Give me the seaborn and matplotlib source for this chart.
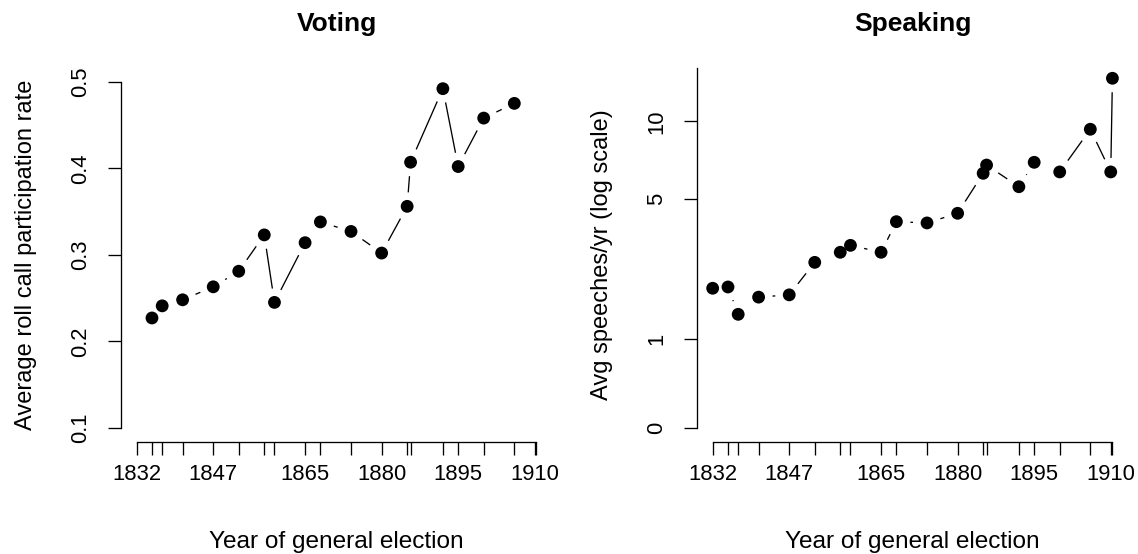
import numpy as np
import matplotlib
matplotlib.use("Agg")
import matplotlib.pyplot as plt
import seaborn as sns

# General elections (x positions of the two same-year contests are nudged apart)
election_year = [1832, 1835, 1837, 1841, 1847, 1852, 1857, 1859, 1865, 1868,
                 1874, 1880, 1885, 1885.67, 1892, 1895, 1900, 1906, 1910, 1910.33]
label_years = [1832, 1847, 1865, 1880, 1895, 1910]
label_text = ["1832", "1847", "1865", "1880", "1895", "1910"]

# Voting: average roll call participation rate (1835-1906 parliaments)
voting_year = election_year[1:18]
voting_rate = [0.227, 0.241, 0.248, 0.263, 0.281, 0.323, 0.245, 0.314, 0.338,
               0.327, 0.302, 0.356, 0.407, 0.492, 0.402, 0.458, 0.475]
voting_ticks = [0.1, 0.2, 0.3, 0.4, 0.5]

# Speaking: average speeches per year per MP
speaking_year = election_year
speeches_per_year = [1.98, 2.01, 1.43, 1.78, 1.83, 2.65, 2.95, 3.17, 2.95, 4.02,
                     3.97, 4.36, 6.33, 6.82, 5.60, 6.99, 6.41, 9.35, 6.41, 14.43]
speaking_ticks = [0, 1, 5, 10]

sns.set_theme(style="ticks", rc={"text.color": "black",
                                 "axes.labelcolor": "black",
                                 "xtick.color": "black",
                                 "ytick.color": "black"})
plt.rcParams["font.family"] = ["Liberation Sans", "DejaVu Sans"]

W, H = 1138, 554
fig = plt.figure(figsize=(W / 100, H / 100), dpi=100)
fig.patch.set_facecolor("white")

XLIM = (1828.87, 1913.46)
TICK_FS = 15.8
LABEL_FS = 17.0
XLABEL_FS = 17.6
TITLE_FS = 19.0
LW = 0.95


def panel_axes(left_px):
    top_px, bottom_px, width_px = 67.9, 441.7, 431.7
    return fig.add_axes([left_px / W, (H - bottom_px) / H,
                         width_px / W, (bottom_px - top_px) / H])


def gapped_lines(ax, xs, ys, gap_px=14.0):
    """Connect points like type='b': each segment stops short of the markers."""
    to_px = ax.transData
    from_px = ax.transData.inverted()
    pts = to_px.transform(np.column_stack([xs, ys]))
    for p0, p1 in zip(pts[:-1], pts[1:]):
        d = p1 - p0
        length = np.hypot(*d)
        if length <= 2 * gap_px:
            continue
        u = d / length
        seg = from_px.transform(np.vstack([p0 + u * gap_px, p1 - u * gap_px]))
        ax.plot(seg[:, 0], seg[:, 1], color="black", lw=LW,
                solid_capstyle="butt", zorder=2)


def style_axes(ax, ybounds):
    for side in ("top", "right"):
        ax.spines[side].set_visible(False)
    for side in ("left", "bottom"):
        ax.spines[side].set_linewidth(LW)
        ax.spines[side].set_color("black")
    ax.spines["bottom"].set_bounds(election_year[0], election_year[-1])
    ax.spines["left"].set_bounds(*ybounds)
    ax.set_xticks(election_year)
    xlabels = []
    used = set()
    for y in election_year:
        if y in label_years and y not in used:
            xlabels.append(label_text[label_years.index(y)])
            used.add(y)
        else:
            xlabels.append("")
    ax.set_xticklabels(xlabels)
    ax.tick_params(axis="both", direction="out", length=9.4, width=LW,
                   color="black", labelsize=TICK_FS, labelcolor="black")
    ax.tick_params(axis="x", pad=7)
    ax.tick_params(axis="y", pad=12)
    ax.set_xlim(*XLIM)
    ax.set_facecolor("white")
    ax.grid(False)


# ---- Voting panel ----
ax1 = panel_axes(120.7)
ax1.set_ylim(0.084, 0.516)
style_axes(ax1, (0.1, 0.5))
ax1.set_yticks(voting_ticks)
ax1.set_yticklabels([f"{v:.1f}" for v in voting_ticks], rotation=90, va="center")
gapped_lines(ax1, voting_year, voting_rate)
sns.scatterplot(x=voting_year, y=voting_rate, ax=ax1, color="black", s=85,
                edgecolor="none", zorder=3, legend=False)
ax1.set_xlim(*XLIM)
ax1.set_ylim(0.084, 0.516)
ax1.set_title("Voting", fontsize=TITLE_FS, fontweight="bold", pad=26.5)
ax1.set_xlabel("Year of general election", fontsize=XLABEL_FS, labelpad=33)
ax1.set_ylabel("Average roll call participation rate", fontsize=LABEL_FS, labelpad=24)

# ---- Speaking panel (log(1 + x) axis) ----
ax2 = panel_axes(696.7)
ax2.set_yscale("function", functions=(np.log1p, np.expm1))
y_lo, y_hi = np.expm1(-0.1096), np.expm1(2.8175)
ax2.set_ylim(y_lo, y_hi)
style_axes(ax2, (0, y_hi))
ax2.set_yticks(speaking_ticks)
ax2.set_yticklabels([str(v) for v in speaking_ticks], rotation=90, va="center")
ax2.minorticks_off()
gapped_lines(ax2, speaking_year, speeches_per_year)
sns.scatterplot(x=speaking_year, y=speeches_per_year, ax=ax2, color="black", s=85,
                edgecolor="none", zorder=3, legend=False)
ax2.set_xlim(*XLIM)
ax2.set_ylim(y_lo, y_hi)
ax2.set_title("Speaking", fontsize=TITLE_FS, fontweight="bold", pad=26.5)
ax2.set_xlabel("Year of general election", fontsize=XLABEL_FS, labelpad=33)
ax2.set_ylabel("Avg speeches/yr (log scale)", fontsize=LABEL_FS, labelpad=24)

fig.savefig("out.png", dpi=100, facecolor="white")
